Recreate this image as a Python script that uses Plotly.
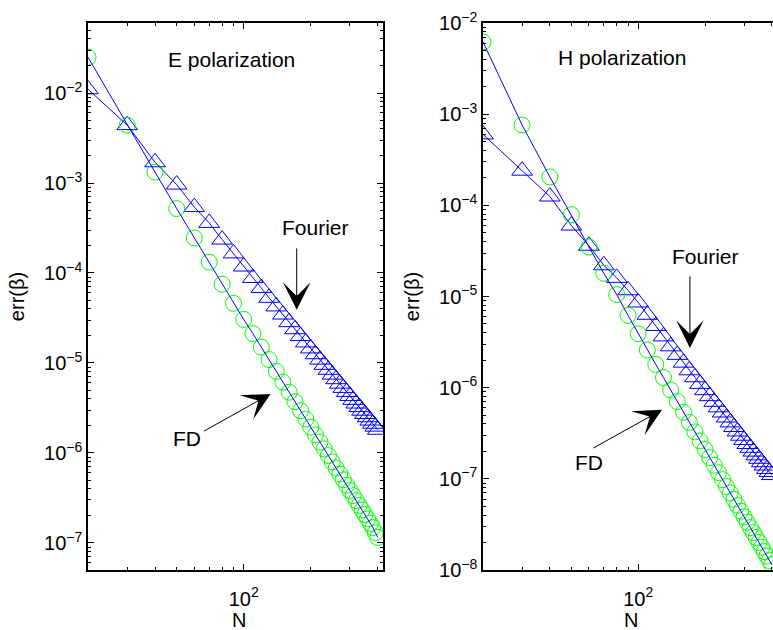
import math
import plotly.graph_objects as go

# ---------------- data ----------------
N = [20, 30, 40, 50, 60, 70, 80, 90, 100, 110, 120, 130, 140, 150, 160, 170, 180, 190, 200,
     210, 220, 230, 240, 250, 260, 270, 280, 290, 300, 310, 320, 330, 340, 350, 360, 370,
     380, 390, 400]

e_fd = [2.5e-2, 4.4e-3, 1.32e-3, 5.2e-4, 2.45e-4, 1.32e-4, 7.5e-5, 4.6e-5, 3.05e-5,
        2.12e-5, 1.50e-5, 1.09e-5, 8.07e-6, 6.12e-6, 4.73e-6, 3.71e-6, 2.95e-6, 2.38e-6, 1.94e-6,
        1.59e-6, 1.32e-6, 1.11e-6, 9.34e-7, 7.94e-7, 6.78e-7, 5.83e-7, 5.04e-7, 4.38e-7, 3.83e-7,
        3.36e-7, 2.96e-7, 2.61e-7, 2.32e-7, 2.07e-7, 1.85e-7, 1.65e-7, 1.48e-7, 1.30e-7, 1.15e-7]

e_fourier = [1.1e-2, 4.4e-3, 1.7e-3, 9.6e-4, 5.4e-4, 3.6e-4, 2.35e-4, 1.65e-4, 1.18e-4,
             8.8e-5, 6.8e-5, 5.3e-5, 4.25e-5, 3.45e-5, 2.84e-5, 2.37e-5, 1.99e-5, 1.69e-5, 1.45e-5,
             1.25e-5, 1.09e-5, 9.53e-6, 8.39e-6, 7.42e-6, 6.60e-6, 5.89e-6, 5.28e-6, 4.76e-6, 4.30e-6,
             3.89e-6, 3.54e-6, 3.23e-6, 2.95e-6, 2.71e-6, 2.49e-6, 2.29e-6, 2.11e-6, 1.96e-6, 1.81e-6]

h_fd = [6.2e-3, 7.6e-4, 2.05e-4, 7.9e-5, 3.5e-5, 1.8e-5, 1.05e-5, 6.2e-6, 3.9e-6,
        2.59e-6, 1.80e-6, 1.29e-6, 9.41e-7, 7.05e-7, 5.37e-7, 4.16e-7, 3.27e-7, 2.61e-7, 2.10e-7,
        1.71e-7, 1.41e-7, 1.17e-7, 9.79e-8, 8.24e-8, 6.99e-8, 5.97e-8, 5.12e-8, 4.42e-8, 3.84e-8,
        3.34e-8, 2.92e-8, 2.57e-8, 2.27e-8, 2.01e-8, 1.78e-8, 1.59e-8, 1.42e-8, 1.27e-8, 1.14e-8]

h_fourier = [6.0e-4, 2.4e-4, 1.25e-4, 6.0e-5, 3.6e-5, 2.2e-5, 1.6e-5, 1.17e-5, 8.6e-6,
             6.3e-6, 4.75e-6, 3.65e-6, 2.84e-6, 2.29e-6, 1.88e-6, 1.55e-6, 1.30e-6, 1.10e-6, 9.39e-7,
             8.07e-7, 6.99e-7, 6.09e-7, 5.34e-7, 4.70e-7, 4.16e-7, 3.70e-7, 3.31e-7, 2.97e-7, 2.67e-7,
             2.41e-7, 2.19e-7, 1.99e-7, 1.81e-7, 1.66e-7, 1.52e-7, 1.40e-7, 1.28e-7, 1.19e-7, 1.10e-7]

x_ticks = [100]
x_ticktext = ["10<sup>2</sup>"]
y_ticks = [1e-8, 1e-7, 1e-6, 1e-5, 1e-4, 1e-3, 1e-2]
y_ticktext = ["10<sup>\u22128</sup>", "10<sup>\u22127</sup>", "10<sup>\u22126</sup>",
              "10<sup>\u22125</sup>", "10<sup>\u22124</sup>", "10<sup>\u22123</sup>",
              "10<sup>\u22122</sup>"]

# ---------------- styling ----------------
W, H = 773, 630
FONT = "Liberation Sans, Arial, Helvetica, sans-serif"
BLUE = "#0000ff"
GREEN = "#00ff00"

fig = go.Figure()

def add_panel(xa, ya, fd, four):
    fig.add_trace(go.Scatter(x=N, y=four, mode="lines+markers", xaxis=xa, yaxis=ya,
                             line=dict(color=BLUE, width=1),
                             marker=dict(symbol="triangle-up-open", size=18, color=BLUE,
                                         line=dict(width=1, color=BLUE)),
                             showlegend=False))
    fig.add_trace(go.Scatter(x=N, y=fd, mode="markers", xaxis=xa, yaxis=ya,
                             marker=dict(symbol="circle-open", size=16, color=GREEN,
                                         line=dict(width=1, color=GREEN)),
                             showlegend=False))
    fig.add_trace(go.Scatter(x=N, y=fd, mode="lines", xaxis=xa, yaxis=ya,
                             line=dict(color=BLUE, width=1), showlegend=False))

add_panel("x", "y", e_fd, e_fourier)
add_panel("x2", "y2", h_fd, h_fourier)

common_ax = dict(type="log", showgrid=False, zeroline=False, showline=True, automargin=False,
                 linecolor="black", linewidth=1.5, ticks="inside", ticklen=6,
                 tickwidth=1, tickcolor="black",
                 tickfont=dict(family=FONT, size=20, color="black"),
                 minor=dict(ticks="inside", ticklen=3, tickwidth=1, tickcolor="black",
                            dtick="D1", showgrid=False))

xcommon = dict(common_ax, ticklabelstandoff=10, tickmode="array",
               tickvals=x_ticks, ticktext=x_ticktext)
ycommon = dict(common_ax, tickmode="array", tickvals=y_ticks, ticktext=y_ticktext,
               title=dict(text="err(\u03b2)", font=dict(family=FONT, size=20), standoff=14))

fig.update_layout(
    width=W, height=H,
    margin=dict(l=0, r=0, t=0, b=0, autoexpand=False),
    paper_bgcolor="white", plot_bgcolor="white",
    font=dict(family=FONT, size=20, color="black"),
    xaxis=dict(xcommon, domain=[88 / W, 383 / W], anchor="y",
               range=[math.log10(20), math.log10(422)], mirror="ticks"),
    yaxis=dict(ycommon, domain=[1 - 570 / H, 1 - 23 / H], anchor="x",
               range=[math.log10(5e-8), math.log10(0.06)], mirror="ticks"),
    xaxis2=dict(xcommon, domain=[483 / W, 1.0], anchor="y2",
                range=[math.log10(20), math.log10(404.7)], mirror="ticks"),
    yaxis2=dict(ycommon, domain=[1 - 570 / H, 1 - 23 / H], anchor="x2",
                range=[-8, -2], mirror=False),
)

# x-axis titles (placed as annotations so they can sit at the very bottom edge)
for xc in (239 / W, 631 / W):
    fig.add_annotation(xref="paper", yref="paper", x=xc, y=1 - 620 / H, text="N",
                       showarrow=False, xanchor="center", yanchor="middle",
                       font=dict(family=FONT, size=20, color="black"))

def text(xr, yr, xv, yv, s):
    fig.add_annotation(xref=xr, yref=yr, x=xv, y=yv, text=s, showarrow=False,
                       font=dict(family=FONT, size=21, color="black"))

def arrow(xr, yr, xv, yv, ax, ay):
    fig.add_annotation(xref=xr, yref=yr, x=xv, y=yv, ax=ax, ay=ay, text="",
                       showarrow=True, arrowhead=3, arrowsize=4.6, arrowwidth=1,
                       arrowcolor="black")

# left panel annotations
text("x", "y", math.log10(88.3), -1.622, "E polarization")
text("x", "y", math.log10(211), -3.5, "Fourier")
arrow("x", "y", math.log10(173), -4.41, 0, -63)
text("x", "y", math.log10(55.4), -5.844, "FD")
arrow("x", "y", math.log10(132), -5.344, -68, 38)

# right panel annotations
text("x2", "y2", math.log10(84.7), -2.373, "H polarization")
text("x2", "y2", math.log10(200), -4.566, "Fourier")
arrow("x2", "y2", math.log10(171), -5.564, 0, -73)
text("x2", "y2", math.log10(60), -6.825, "FD")
arrow("x2", "y2", math.log10(128), -6.243, -70, 39)

fig.write_html("out.html", config={"displayModeBar": False},
               post_script="document.body.style.margin='0';document.body.style.overflow='hidden';")
